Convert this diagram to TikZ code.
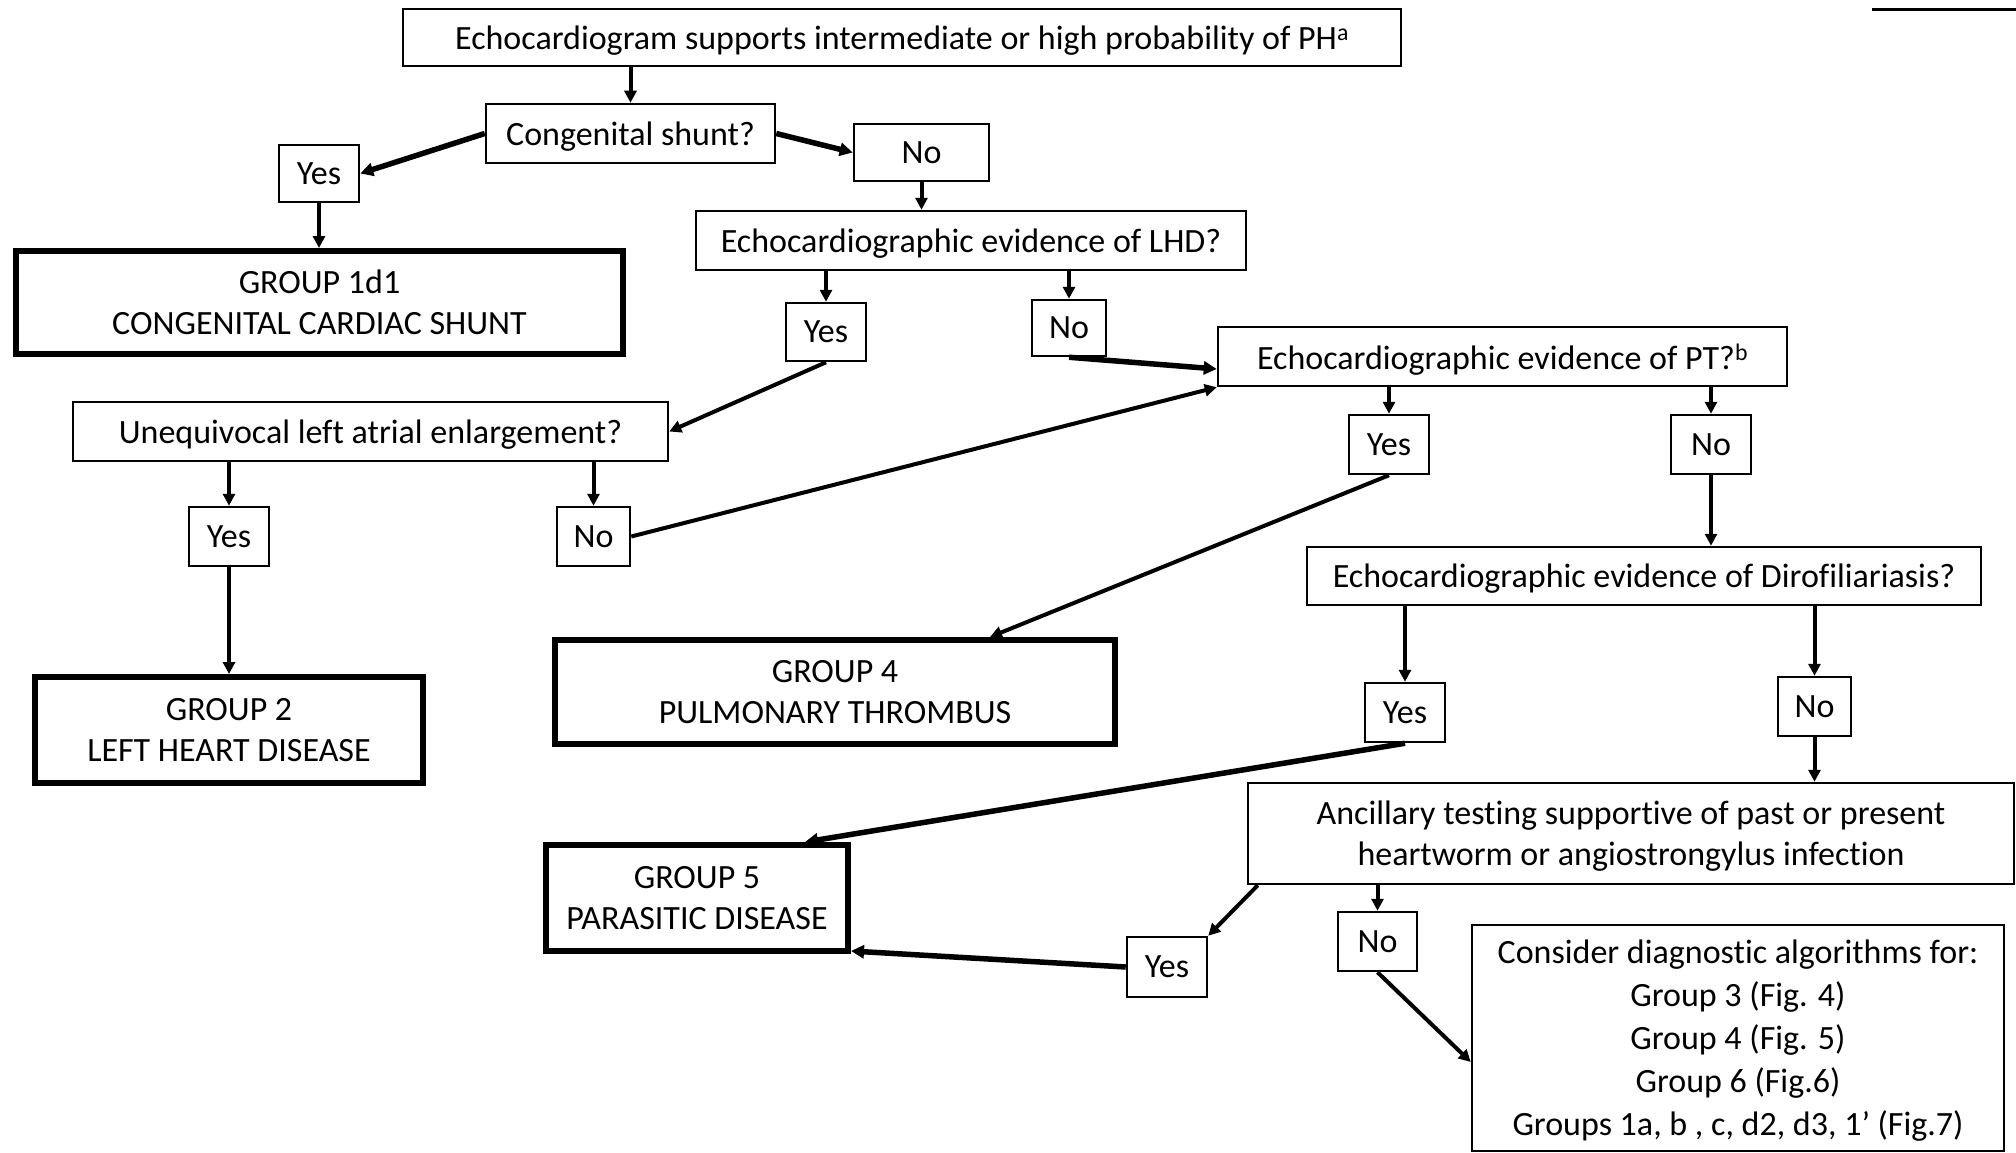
\documentclass[tikz,border=0pt]{standalone}
\usepackage{fontspec}
\setmainfont{Carlito}[Ligatures={NoCommon}]
\usetikzlibrary{arrows.meta,calc}
\begin{document}
\begin{tikzpicture}[x=1pt,y=-1pt,
  qbox/.style={draw, line width=2.5pt, inner sep=0pt, align=center, text depth=0pt, font=\fontsize{34}{41}\selectfont},
  gbox/.style={qbox, line width=6pt},
  arr/.style={line width=4pt, -{Triangle[length=12pt,width=12pt]}},
  arrthick/.style={line width=5.5pt, -{Triangle[length=13pt,width=13pt]}}]
\useasboundingbox (0,0) rectangle (2016,1153);
\fill[white] (0,0) rectangle (2016,1153);
\draw[line width=3pt] (1872,10) -- (2016,10);

\node[qbox, minimum width=998, minimum height=57] (top) at (902,37.5) {Echocardiogram supports intermediate or high probability of PH\textsuperscript{a}};
\node[qbox, minimum width=289, minimum height=59] (cong) at (630.5,133.5) {Congenital shunt?};
\node[qbox, minimum width=135, minimum height=57] (no1) at (921.5,152.5) {No};
\node[qbox, minimum width=80, minimum height=57] (yes1) at (319,173.5) {Yes};
\node[gbox, minimum width=607, minimum height=103] (g1) at (319.5,302.5) {GROUP 1d1\\CONGENITAL CARDIAC SHUNT};
\node[qbox, minimum width=550, minimum height=59] (lhd) at (971,240.5) {Echocardiographic evidence of LHD?};
\node[qbox, minimum width=80, minimum height=58] (yeslhd) at (826,332) {Yes};
\node[qbox, minimum width=74, minimum height=56] (nolhd) at (1069,328) {No};
\node[qbox, minimum width=569, minimum height=59] (pt) at (1502.5,356.5) {Echocardiographic evidence of PT?\textsuperscript{b}};
\node[qbox, minimum width=595, minimum height=59] (uneq) at (370.5,431.5) {Unequivocal left atrial enlargement?};
\node[qbox, minimum width=80, minimum height=59] (yes2) at (229,536.5) {Yes};
\node[qbox, minimum width=73, minimum height=59] (no3) at (593.5,536.5) {No};
\node[gbox, minimum width=388, minimum height=106] (g2) at (229,730) {GROUP 2\\LEFT HEART DISEASE};
\node[qbox, minimum width=80, minimum height=59] (yespt) at (1389,444.5) {Yes};
\node[qbox, minimum width=80, minimum height=59] (nopt) at (1711,444.5) {No};
\node[gbox, minimum width=560, minimum height=104] (g4) at (835,692) {GROUP 4\\PULMONARY THROMBUS};
\node[qbox, minimum width=674, minimum height=58] (diro) at (1644,576) {Echocardiographic evidence of Dirofiliariasis?};
\node[qbox, minimum width=80, minimum height=59] (yesdiro) at (1405,712.5) {Yes};
\node[qbox, minimum width=73, minimum height=59] (nodiro) at (1814.5,706.5) {No};
\node[qbox, minimum width=766, minimum height=101] (anc) at (1631,833.5) {Ancillary testing supportive of past or present\\heartworm or angiostrongylus infection};
\node[gbox, minimum width=302, minimum height=106] (g5) at (697,898) {GROUP 5\\PARASITIC DISEASE};
\node[qbox, minimum width=80, minimum height=60] (yesanc) at (1167,967) {Yes};
\node[qbox, minimum width=79, minimum height=59] (noanc) at (1377.5,941.5) {No};
\node[qbox, minimum width=532, minimum height=226, font=\fontsize{34}{43}\selectfont] (cons) at (1738,1038) {Consider diagnostic algorithms for:\\Group 3 (Fig. 4)\\Group 4 (Fig. 5)\\Group 6 (Fig.6)\\Groups 1a, b , c, d2, d3, 1’ (Fig.7)};

\draw[arr] (cong.north |- top.south) -- (cong.north);
\draw[arrthick] (cong.west) -- (yes1.east);
\draw[arrthick] (cong.east) -- (no1.west);
\draw[arr] (yes1.south) -- (yes1.south |- g1.north);
\draw[arr] (no1.south) -- (no1.south |- lhd.north);
\draw[arr] (yeslhd.north |- lhd.south) -- (yeslhd.north);
\draw[arr] (nolhd.north |- lhd.south) -- (nolhd.north);
\draw[arr] (yeslhd.south) -- (uneq.east);
\draw[arrthick] (nolhd.south) -- ([yshift=-12.5pt]pt.west);
\draw[arr] (yes2.north |- uneq.south) -- (yes2.north);
\draw[arr] (no3.north |- uneq.south) -- (no3.north);
\draw[arr] (yes2.south) -- (yes2.south |- g2.north);
\draw[arr] (no3.east) -- (pt.south west);
\draw[arr] (yespt.north |- pt.south) -- (yespt.north);
\draw[arr] (nopt.north |- pt.south) -- (nopt.north);
\draw[arr] (yespt.south) -- ([xshift=155pt]g4.north);
\draw[arr] (nopt.south) -- (nopt.south |- diro.north);
\draw[arr] (yesdiro.north |- diro.south) -- (yesdiro.north);
\draw[arr] (nodiro.north |- diro.south) -- (nodiro.north);
\draw[arrthick] (yesdiro.south) -- ([xshift=108pt]g5.north);
\draw[arr] (nodiro.south) -- (nodiro.south |- anc.north);
\draw[arr] ([xshift=11pt]anc.south west) -- (yesanc.north east);
\draw[arr] (noanc.north |- anc.south) -- (noanc.north);
\draw[arrthick] (yesanc.west) -- ([yshift=3pt]g5.south east);
\draw[arr] (noanc.south) -- ([yshift=-24pt]cons.west);
\end{tikzpicture}
\end{document}
